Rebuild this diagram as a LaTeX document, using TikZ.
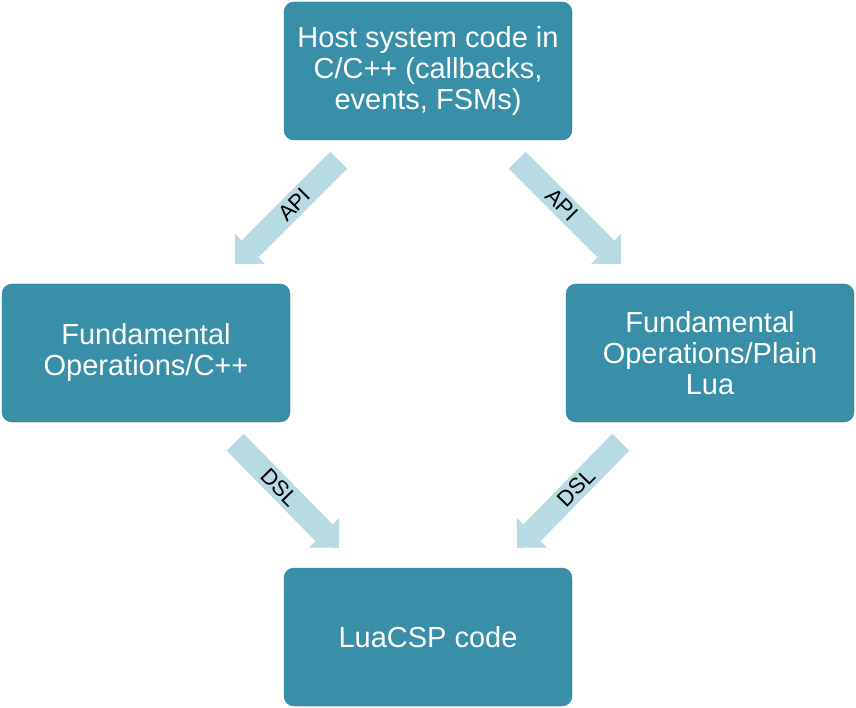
\documentclass[tikz,border=0pt]{standalone}
\usepackage{fontspec}
\setmainfont{Liberation Sans}
\usetikzlibrary{arrows.meta,calc}

\definecolor{boxteal}{RGB}{56,143,167}
\definecolor{boxedge}{RGB}{46,124,145}
\definecolor{arrowblue}{RGB}{184,218,227}

\tikzset{
  block/.style={draw=boxedge, fill=boxteal, rounded corners=10pt,
    minimum width=288pt, minimum height=138pt, inner sep=0pt,
    align=center, text=white, font=\fontsize{29}{31}\selectfont},
  bigarrow/.style={draw=arrowblue, line width=24pt,
    -{Triangle[length=21pt 0 0, width=42pt 0 0, line width=0pt 0 0]}},
  arrowlabel/.style={font=\fontsize{22}{24}\selectfont, text=black,
    sloped, pos=0.43, inner sep=0pt}
}

\begin{document}
\begin{tikzpicture}[
				x=1pt,
				y=-1pt,
				line join=miter
			]
			\useasboundingbox (0,0) rectangle (856,708);

			% Boxes
			\node[block] (host) at (428,71) {Host system code in\\C/C++ (callbacks,\\events, FSMs)};
			\node[block] (cxx) at (146,353) {Fundamental\\Operations/C++};
			\node[block] (lua) at (710,353) {Fundamental\\Operations/Plain\\Lua};
			\node[block] (luacsp) at (428,637) {LuaCSP code};

			% Arrows from host down to the two layers
			\draw[bigarrow] ($(host.south west)+(55,20)$) -- ($(cxx.north east)+(-55,-20)$)
			node[arrowlabel] {API};
			\draw[bigarrow] ($(host.south east)+(-55,20)$) -- ($(lua.north west)+(55,-20)$)
			node[arrowlabel] {API};

			% Arrows from the layers down to LuaCSP
			\draw[bigarrow] ($(cxx.south east)+(-55,20)$) -- ($(luacsp.north west)+(55,-20)$)
			node[arrowlabel] {DSL};
			\draw[bigarrow] ($(lua.south west)+(55,20)$) -- ($(luacsp.north east)+(-55,-20)$)
			node[arrowlabel] {DSL};

		\end{tikzpicture}
\end{document}
